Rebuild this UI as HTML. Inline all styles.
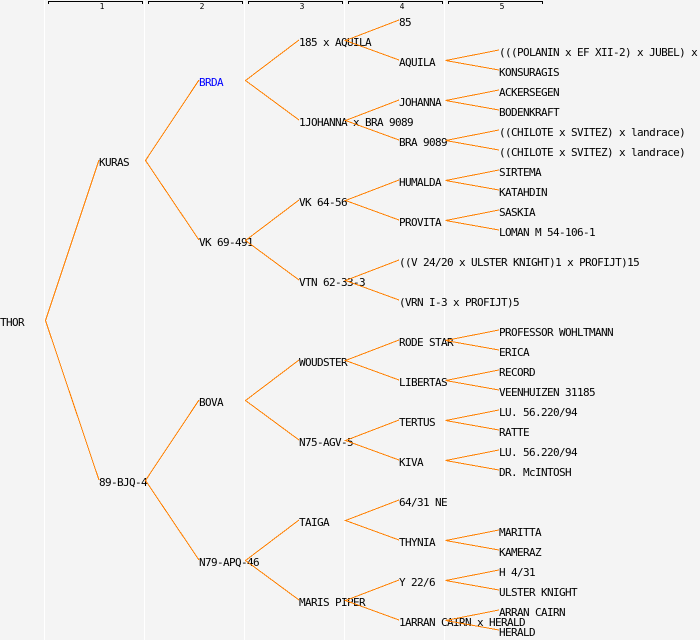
<!DOCTYPE html>
<html><head><meta charset="utf-8"><style>
html,body{margin:0;padding:0;background:#f4f4f4}
svg{display:block}
text{font-family:"DejaVu Sans Mono","Liberation Mono",monospace;font-size:11px;letter-spacing:-0.62px;fill:#000}
text.n{font-size:8px;letter-spacing:0;text-anchor:middle}
</style></head><body>
<svg xmlns="http://www.w3.org/2000/svg" width="700" height="640" viewBox="0 0 700 640">
<rect width="700" height="640" fill="#f4f4f4"/>
<g fill="#fff">
<rect x="44" y="0" width="1" height="640"/><rect x="144" y="0" width="1" height="640"/><rect x="244" y="0" width="1" height="640"/><rect x="344" y="0" width="1" height="640"/><rect x="444" y="0" width="1" height="640"/>
</g>
<g fill="none" stroke="#000" stroke-width="1" shape-rendering="crispEdges">
<path d="M48.5 4V1.5H142.5V4"/><path d="M148.5 4V1.5H242.5V4"/><path d="M248.5 4V1.5H342.5V4"/><path d="M348.5 4V1.5H442.5V4"/><path d="M448.5 4V1.5H542.5V4"/>
</g>
<text class="n" x="102" y="9">1</text><text class="n" x="202" y="9">2</text><text class="n" x="302" y="9">3</text><text class="n" x="402" y="9">4</text><text class="n" x="502" y="9">5</text>
<g transform="translate(0,1)">
<text x="0" y="325">THOR</text>
<text x="99" y="165">KURAS</text>
<text x="99" y="485">89-BJQ-4</text>
<text x="199" y="85" style="fill:#00f">BRDA</text>
<text x="199" y="245">VK 69-491</text>
<text x="199" y="405">BOVA</text>
<text x="199" y="565">N79-APQ-46</text>
<text x="299" y="45">185 x AQUILA</text>
<text x="299" y="125">1JOHANNA x BRA 9089</text>
<text x="299" y="205">VK 64-56</text>
<text x="299" y="285">VTN 62-33-3</text>
<text x="299" y="365">WOUDSTER</text>
<text x="299" y="445">N75-AGV-5</text>
<text x="299" y="525">TAIGA</text>
<text x="299" y="605">MARIS PIPER</text>
<text x="399" y="25">85</text>
<text x="399" y="65">AQUILA</text>
<text x="399" y="105">JOHANNA</text>
<text x="399" y="145">BRA 9089</text>
<text x="399" y="185">HUMALDA</text>
<text x="399" y="225">PROVITA</text>
<text x="399" y="265">((V 24/20 x ULSTER KNIGHT)1 x PROFIJT)15</text>
<text x="399" y="305">(VRN I-3 x PROFIJT)5</text>
<text x="399" y="345">RODE STAR</text>
<text x="399" y="385">LIBERTAS</text>
<text x="399" y="425">TERTUS</text>
<text x="399" y="465">KIVA</text>
<text x="399" y="505">64/31 NE</text>
<text x="399" y="545">THYNIA</text>
<text x="399" y="585">Y 22/6</text>
<text x="399" y="625">1ARRAN CAIRN x HERALD</text>
<text x="499" y="55">(((POLANIN x EF XII-2) x JUBEL) x</text>
<text x="499" y="75">KONSURAGIS</text>
<text x="499" y="95">ACKERSEGEN</text>
<text x="499" y="115">BODENKRAFT</text>
<text x="499" y="135">((CHILOTE x SVITEZ) x landrace)</text>
<text x="499" y="155">((CHILOTE x SVITEZ) x landrace)</text>
<text x="499" y="175">SIRTEMA</text>
<text x="499" y="195">KATAHDIN</text>
<text x="499" y="215">SASKIA</text>
<text x="499" y="235">LOMAN M 54-106-1</text>
<text x="499" y="335">PROFESSOR WOHLTMANN</text>
<text x="499" y="355">ERICA</text>
<text x="499" y="375">RECORD</text>
<text x="499" y="395">VEENHUIZEN 31185</text>
<text x="499" y="415">LU. 56.220/94</text>
<text x="499" y="435">RATTE</text>
<text x="499" y="455">LU. 56.220/94</text>
<text x="499" y="475">DR. McINTOSH</text>
<text x="499" y="535">MARITTA</text>
<text x="499" y="555">KAMERAZ</text>
<text x="499" y="575">H 4/31</text>
<text x="499" y="595">ULSTER KNIGHT</text>
<text x="499" y="615">ARRAN CAIRN</text>
<text x="499" y="635">HERALD</text>
</g>
<g fill="none" stroke="#ff8000" stroke-width="1" shape-rendering="crispEdges">
<path d="M99 160L45.5 320.5L99 480"/>
<path d="M199 80L145.5 160.5L199 240"/>
<path d="M199 400L145.5 480.5L199 560"/>
<path d="M299 40L245.5 80.5L299 120"/>
<path d="M299 200L245.5 240.5L299 280"/>
<path d="M299 360L245.5 400.5L299 440"/>
<path d="M299 520L245.5 560.5L299 600"/>
<path d="M399 20L345.5 40.5L399 60"/>
<path d="M399 100L345.5 120.5L399 140"/>
<path d="M399 180L345.5 200.5L399 220"/>
<path d="M399 260L345.5 280.5L399 300"/>
<path d="M399 340L345.5 360.5L399 380"/>
<path d="M399 420L345.5 440.5L399 460"/>
<path d="M399 500L345.5 520.5L399 540"/>
<path d="M399 580L345.5 600.5L399 620"/>
<path d="M499 50L445.5 60.5L499 70"/>
<path d="M499 90L445.5 100.5L499 110"/>
<path d="M499 130L445.5 140.5L499 150"/>
<path d="M499 170L445.5 180.5L499 190"/>
<path d="M499 210L445.5 220.5L499 230"/>
<path d="M499 330L445.5 340.5L499 350"/>
<path d="M499 370L445.5 380.5L499 390"/>
<path d="M499 410L445.5 420.5L499 430"/>
<path d="M499 450L445.5 460.5L499 470"/>
<path d="M499 530L445.5 540.5L499 550"/>
<path d="M499 570L445.5 580.5L499 590"/>
<path d="M499 610L445.5 620.5L499 630"/>
</g>
</svg>
</body></html>
